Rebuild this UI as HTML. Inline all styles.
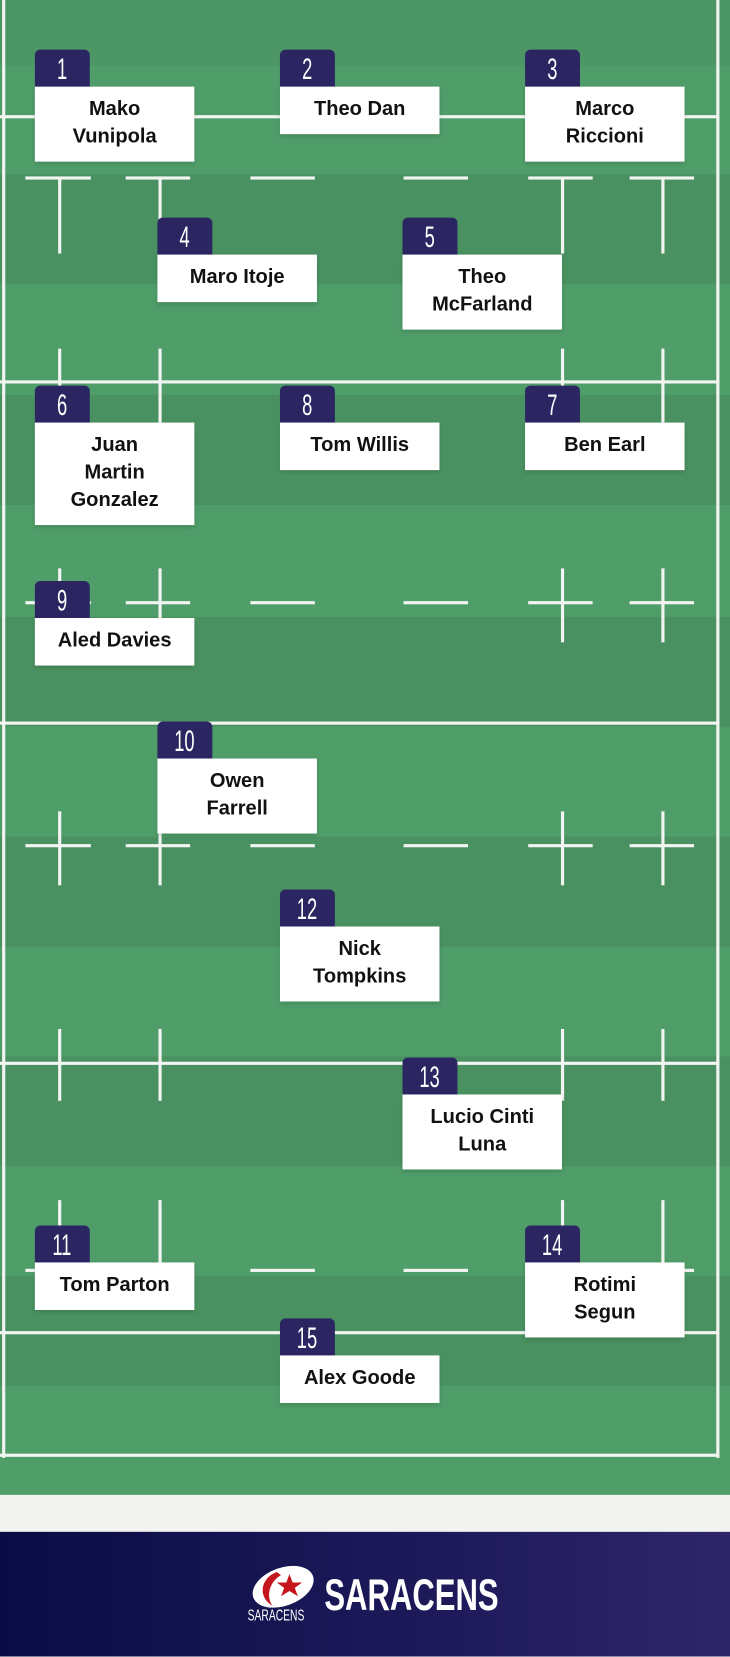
<!DOCTYPE html>
<html><head><meta charset="utf-8"><style>
html,body{margin:0;padding:0;width:730px;height:1657px;overflow:hidden;background:#f3f4f2}
#w{position:absolute;left:0;top:0;width:691px;height:1568px;transform:scale(1.05644);transform-origin:0 0}
.f{position:absolute;left:0;top:0;width:691px;height:1415px;background:#4f9d69}
.s{position:absolute;left:0;width:691px;background:#4a9161}
.l{position:absolute;background:#f2f4f2}
.b{position:absolute;width:52px;height:36px;background:#2b2662;border-radius:5px 5px 0 0;color:#fff;font-family:"Liberation Sans",sans-serif;font-size:28px;line-height:38px;text-align:center}
.b span{display:inline-block;transform:scaleX(0.62)}
.c{position:absolute;width:151px;background:#fff;font-family:"Liberation Sans",sans-serif;font-weight:bold;font-size:19px;line-height:26px;text-align:center;color:#111;padding:9px 0 10px;box-shadow:0 2px 4px rgba(0,0,0,.15)}
.ft{position:absolute;left:0;top:1450px;width:691px;height:118px;background:linear-gradient(90deg,#090d45,#1e1a5a 60%,#2e2669)}
</style></head><body><div id="w">
<div class="f"></div>
<div class="s" style="top:0;height:62px;background:#4c9564"></div>
<div class="s" style="top:165px;height:104px"></div>
<div class="s" style="top:374px;height:104px"></div>
<div class="s" style="top:584px;height:104px"></div>
<div class="s" style="top:792px;height:104px"></div>
<div class="s" style="top:1000px;height:104px"></div>
<div class="s" style="top:1208px;height:104px"></div>
<div class="l" style="left:2px;top:0;width:3px;height:1380px"></div>
<div class="l" style="left:678px;top:0;width:3px;height:1380px"></div>
<div class="l" style="left:0;top:1376px;width:681px;height:3px"></div>
<div class="l" style="left:0;top:109px;width:681px;height:3px"></div>
<div class="l" style="left:0;top:360px;width:681px;height:3px"></div>
<div class="l" style="left:0;top:683px;width:681px;height:3px"></div>
<div class="l" style="left:0;top:1005px;width:681px;height:3px"></div>
<div class="l" style="left:0;top:1260px;width:681px;height:3px"></div>
<div id="d"></div>
<script>
var d=document.getElementById('d'),h='';
var xs=[[24,86],[119,180],[237,298],[382,443],[500,561],[596,657]];
[168,570,800,1202].forEach(function(y){xs.forEach(function(x){h+='<div class="l" style="left:'+x[0]+'px;top:'+(y-1)+'px;width:'+(x[1]-x[0])+'px;height:3px"></div>';});});
var vx=[56,151,532,627];
[[168,240],[330,400],[538,608],[768,838],[974,1042],[1136,1202]].forEach(function(r){vx.forEach(function(x){h+='<div class="l" style="left:'+(x-1)+'px;top:'+r[0]+'px;width:3px;height:'+(r[1]-r[0])+'px"></div>';});});
d.innerHTML=h;
</script>
<div class="b" style="left:33px;top:47px"><span>1</span></div><div class="c" style="left:33px;top:82px">Mako<br>Vunipola</div>
<div class="b" style="left:265px;top:47px"><span>2</span></div><div class="c" style="left:265px;top:82px">Theo Dan</div>
<div class="b" style="left:497px;top:47px"><span>3</span></div><div class="c" style="left:497px;top:82px">Marco<br>Riccioni</div>
<div class="b" style="left:149px;top:206px"><span>4</span></div><div class="c" style="left:149px;top:241px">Maro Itoje</div>
<div class="b" style="left:381px;top:206px"><span>5</span></div><div class="c" style="left:381px;top:241px">Theo<br>McFarland</div>
<div class="b" style="left:33px;top:365px"><span>6</span></div><div class="c" style="left:33px;top:400px">Juan<br>Martin<br>Gonzalez</div>
<div class="b" style="left:265px;top:365px"><span>8</span></div><div class="c" style="left:265px;top:400px">Tom Willis</div>
<div class="b" style="left:497px;top:365px"><span>7</span></div><div class="c" style="left:497px;top:400px">Ben Earl</div>
<div class="b" style="left:33px;top:550px"><span>9</span></div><div class="c" style="left:33px;top:585px">Aled Davies</div>
<div class="b" style="left:149px;top:683px"><span>10</span></div><div class="c" style="left:149px;top:718px">Owen<br>Farrell</div>
<div class="b" style="left:265px;top:842px"><span>12</span></div><div class="c" style="left:265px;top:877px">Nick<br>Tompkins</div>
<div class="b" style="left:381px;top:1001px"><span>13</span></div><div class="c" style="left:381px;top:1036px">Lucio Cinti<br>Luna</div>
<div class="b" style="left:33px;top:1160px"><span>11</span></div><div class="c" style="left:33px;top:1195px">Tom Parton</div>
<div class="b" style="left:497px;top:1160px"><span>14</span></div><div class="c" style="left:497px;top:1195px">Rotimi<br>Segun</div>
<div class="b" style="left:265px;top:1248px"><span>15</span></div><div class="c" style="left:265px;top:1283px">Alex Goode</div>
<div class="ft">
<svg style="position:absolute;left:232px;top:32px" width="70" height="42" viewBox="0 0 70 42"><ellipse cx="36" cy="20" rx="30" ry="18" transform="rotate(-20 36 20)" fill="#fff"/><path d="M30 6 C14 12 12 30 26 38 C20 30 22 16 34 9Z" fill="#c4161c"/><polygon points="42,8 45,16 54,16 47,21 50,29 42,24 34,29 37,21 30,16 39,16" fill="#c4161c"/></svg>
<div style="position:absolute;left:220px;top:72px;width:80px;text-align:center;color:#fff;font-family:'Liberation Sans',sans-serif;font-size:15px;line-height:16px"><span style="display:inline-block;transform:scaleX(0.65)">SARACENS</span></div>
<div style="position:absolute;left:307px;top:40px;color:#fff;font-family:'Liberation Sans',sans-serif;font-size:42px;font-weight:bold;line-height:40px;transform:scaleX(0.7);transform-origin:0 0">SARACENS</div>
</div>
</div></body></html>
